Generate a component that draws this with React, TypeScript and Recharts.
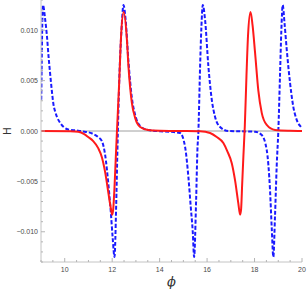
import React from 'react';
import { LineChart, Line, XAxis, YAxis, ReferenceLine } from 'recharts';

const bluePhi = [
  9.011, 9.082, 9.179, 9.251, 9.318, 9.389, 9.461, 9.528, 9.6, 9.672, 9.811, 9.979, 10.147, 10.484,
  10.737, 11.158, 11.41, 11.566, 11.705, 11.844, 11.937, 12.021, 12.097, 12.168, 12.211, 12.24, 12.307,
  12.392, 12.476, 12.568, 12.686, 12.829, 12.968, 13.179, 13.516, 14.02, 14.44,
  14.863, 15.074, 15.213, 15.314, 15.398, 15.453, 15.537, 15.592, 15.634, 15.705, 15.76, 15.819, 15.916,
  16.055, 16.198, 16.337, 16.547, 16.897, 17.39, 18.02,
  18.303, 18.514, 18.653, 18.724, 18.792, 18.863, 18.935, 19.002, 19.074, 19.13, 19.187, 19.26, 19.356,
  19.495, 19.634, 19.777, 19.987, 20.0,
];
const blueH = [
  0.0031, 0.0125, 0.011, 0.0094, 0.0074, 0.0056, 0.0039, 0.0026, 0.0019, 0.0014, 0.0008, 0.00035, 0.00015, 0.00005,
  -0.00003, -0.00025, -0.0006, -0.001, -0.0024, -0.0054, -0.0079, -0.0106, -0.0125, -0.0074, -0.0029, 0, 0.0056,
  0.01, 0.0125, 0.011, 0.0069, 0.0033, 0.0016, 0.0005, 0.0001, -0.00003, -0.00007,
  -0.0002, -0.0016, -0.0046, -0.0076, -0.0101, -0.0125, -0.0069, -0.0019, 0, 0.0064, 0.0103, 0.0125, 0.011,
  0.0064, 0.0031, 0.0014, 0.0004, 0, -0.00003, -0.00007,
  -0.0004, -0.0019, -0.0059, -0.0096, -0.0125, -0.0084, -0.0034, 0, 0.0056, 0.01, 0.0125, 0.0108, 0.0081,
  0.0048, 0.0024, 0.0011, 0.0003, 0.00025,
];

const redPhi = [
  9.0, 10.232, 10.568, 10.821, 10.989, 11.2, 11.411, 11.566, 11.705, 11.844, 11.945, 12.0, 12.042, 12.097,
  12.147, 12.198, 12.295, 12.379, 12.484, 12.619, 12.686, 12.829, 12.968, 13.179, 13.516, 14.021, 14.863,
  15.705, 16.126, 16.408, 16.686, 16.85, 17.04, 17.179, 17.318, 17.389, 17.432, 17.48, 17.53, 17.59, 17.66,
  17.726, 17.83, 17.916, 18.021, 18.16, 18.303, 18.514, 18.863, 19.495, 20.0,
];
const redH = [
  0, -0.00002, -0.00007, -0.0003, -0.0006, -0.001, -0.0017, -0.0026, -0.0041, -0.0062, -0.0077, -0.0083, -0.0078, -0.0056,
  -0.0029, -0.0002, 0.0048, 0.0096, 0.0118, 0.0091, 0.0064, 0.0028, 0.0013, 0.0004, 0.0001, 0.00003, 0,
  -0.00003, -0.0002, -0.0006, -0.0012, -0.002, -0.0032, -0.0049, -0.0072, -0.0083, -0.0078, -0.0052, -0.0025, 0.0005, 0.0055,
  0.0095, 0.0118, 0.0105, 0.0078, 0.004, 0.0018, 0.0006, 0.0001, 0.00002, 0,
];

const xTicks = [9, 9.5, 10, 10.5, 11, 11.5, 12, 12.5, 13, 13.5, 14, 14.5, 15, 15.5, 16, 16.5, 17, 17.5, 18, 18.5, 19, 19.5, 20];
const xLabels = [10, 12, 14, 16, 18, 20];
const yTicks = [
  -0.013, -0.012, -0.011, -0.01, -0.009, -0.008, -0.007, -0.006, -0.005, -0.004, -0.003, -0.002, -0.001, 0,
  0.001, 0.002, 0.003, 0.004, 0.005, 0.006, 0.007, 0.008, 0.009, 0.01, 0.011, 0.012, 0.013,
];
const yLabels = [-0.01, -0.005, 0, 0.005, 0.01];

const blueData = bluePhi.map((p, i) => ({ phi: p, H: blueH[i] }));
const redData = redPhi.map((p, i) => ({ phi: p, H: redH[i] }));

const FRAME = '#c4c4c4';
const TICKC = '#b4b4b4';
const LABEL = '#4a4a4a';
const FONT = 'Liberation Sans, Arial, sans-serif';

const isMajorX = (v: number) => xLabels.some((l) => Math.abs(l - v) < 1e-9);
const isMajorY = (v: number) => yLabels.some((l) => Math.abs(l - v) < 1e-9);
const fmtY = (v: number) => {
  const s = Math.abs(v).toFixed(3);
  return v < -1e-12 ? '\u2212' + s : s;
};

const BottomTick = (props: any) => {
  const { x, y, payload } = props;
  const major = isMajorX(payload.value);
  return (
    <g>
      <line x1={x} y1={y} x2={x} y2={y - (major ? 4 : 2)} stroke={TICKC} strokeWidth={1} />
      {major && (
        <text x={x} y={y + 10} textAnchor="middle" fontSize={7} fill={LABEL} fontFamily={FONT}>
          {payload.value}
        </text>
      )}
    </g>
  );
};

const TopTick = (props: any) => {
  const { x, y, payload } = props;
  const major = isMajorX(payload.value);
  return <line x1={x} y1={y} x2={x} y2={y + (major ? 4 : 2)} stroke={TICKC} strokeWidth={1} />;
};

const LeftTick = (props: any) => {
  const { x, y, payload } = props;
  const major = isMajorY(payload.value);
  return (
    <g>
      <line x1={x} y1={y} x2={x + (major ? 4 : 2)} y2={y} stroke={TICKC} strokeWidth={1} />
      {major && (
        <text x={x - 3} y={y + 2.5} textAnchor="end" fontSize={7} fill={LABEL} fontFamily={FONT}>
          {fmtY(payload.value)}
        </text>
      )}
    </g>
  );
};

const RightTick = (props: any) => {
  const { x, y, payload } = props;
  const major = isMajorY(payload.value);
  return <line x1={x} y1={y} x2={x - (major ? 4 : 2)} y2={y} stroke={TICKC} strokeWidth={1} />;
};

const PhiLabel = (props: any) => {
  const vb = props.viewBox || {};
  return (
    <text
      x={vb.x + vb.width / 2}
      y={vb.y + vb.height - 4}
      textAnchor="middle"
      fontSize={13}
      fontStyle="italic"
      fill="#333"
      fontFamily="DejaVu Serif, serif"
    >
      {'\u03D5'}
    </text>
  );
};

const HLabel = (props: any) => {
  const vb = props.viewBox || {};
  const cx = vb.x + 7.5;
  const cy = vb.y + vb.height / 2;
  return (
    <text
      x={cx}
      y={cy}
      transform={`rotate(-90, ${cx}, ${cy})`}
      textAnchor="middle"
      dominantBaseline="central"
      fontSize={10}
      fill="#333"
      fontFamily={FONT}
    >
      H
    </text>
  );
};

export default function App() {
  return (
    <div style={{ position: 'absolute', left: 0, top: 0, width: 307, height: 290, background: '#fff' }}>
      <LineChart width={307} height={290} margin={{ top: 0, right: 5, bottom: 0, left: 0 }}>
        <XAxis
          xAxisId="b"
          dataKey="phi"
          type="number"
          domain={[9, 20]}
          ticks={xTicks}
          interval={0}
          allowDataOverflow
          tick={<BottomTick />}
          tickLine={false}
          tickSize={0}
          tickMargin={0}
          axisLine={{ stroke: FRAME }}
          height={28}
          label={<PhiLabel />}
        />
        <XAxis
          xAxisId="t"
          orientation="top"
          dataKey="phi"
          type="number"
          domain={[9, 20]}
          ticks={xTicks}
          interval={0}
          allowDataOverflow
          tick={<TopTick />}
          tickLine={false}
          tickSize={0}
          tickMargin={0}
          axisLine={{ stroke: FRAME }}
          height={0}
        />
        <YAxis
          yAxisId="l"
          dataKey="H"
          type="number"
          domain={[-0.013, 0.013]}
          ticks={yTicks}
          interval={0}
          allowDataOverflow
          tick={<LeftTick />}
          tickLine={false}
          tickSize={0}
          tickMargin={0}
          axisLine={{ stroke: FRAME }}
          width={41}
          label={<HLabel />}
        />
        <YAxis
          yAxisId="r"
          orientation="right"
          dataKey="H"
          type="number"
          domain={[-0.013, 0.013]}
          ticks={yTicks}
          interval={0}
          allowDataOverflow
          tick={<RightTick />}
          tickLine={false}
          tickSize={0}
          tickMargin={0}
          axisLine={{ stroke: FRAME }}
          width={0}
        />
        <ReferenceLine xAxisId="b" yAxisId="l" y={0} stroke="#a0a0a0" strokeWidth={1} ifOverflow="extendDomain" />
        <Line
          xAxisId="b"
          yAxisId="l"
          data={blueData}
          dataKey="H"
          type="monotone"
          stroke="#1a1aff"
          strokeWidth={2}
          strokeDasharray="4 2"
          dot={false}
          isAnimationActive={false}
        />
        <Line
          xAxisId="b"
          yAxisId="l"
          data={redData}
          dataKey="H"
          type="monotone"
          stroke="#ff1a1a"
          strokeWidth={2}
          dot={false}
          isAnimationActive={false}
        />
      </LineChart>
    </div>
  );
}
